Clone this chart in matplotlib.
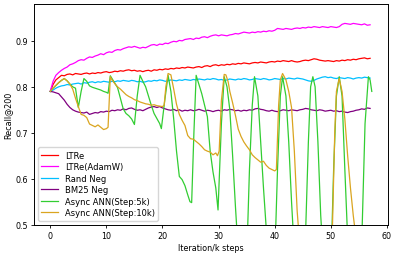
import numpy as np
import matplotlib
matplotlib.use("Agg")
import matplotlib.pyplot as plt

steps = np.arange(0, 57.01, 0.5)

ltre = [0.790, 0.805, 0.815, 0.820, 0.825, 0.824, 0.827, 0.828, 0.826, 0.829,
        0.828, 0.827, 0.829, 0.830, 0.828, 0.830, 0.829, 0.831, 0.830, 0.832,
        0.833, 0.831, 0.832, 0.834, 0.833, 0.835, 0.834, 0.836, 0.837, 0.835,
        0.836, 0.834, 0.835, 0.833, 0.835, 0.836, 0.834, 0.837, 0.836, 0.838,
        0.837, 0.839, 0.838, 0.840, 0.839, 0.841, 0.840, 0.842, 0.841, 0.843,
        0.842, 0.841, 0.843, 0.844, 0.842, 0.845, 0.846, 0.844, 0.847, 0.848,
        0.846, 0.848, 0.847, 0.849, 0.848, 0.850, 0.849, 0.851, 0.850, 0.852,
        0.851, 0.850, 0.852, 0.853, 0.852, 0.854, 0.853, 0.852, 0.854, 0.855,
        0.854, 0.856, 0.855, 0.857, 0.856, 0.855, 0.857, 0.855, 0.854, 0.855,
        0.857, 0.858, 0.857, 0.859, 0.861, 0.860, 0.858, 0.857, 0.856, 0.857,
        0.856, 0.855, 0.857, 0.856, 0.858, 0.857, 0.859, 0.858, 0.860, 0.859,
        0.861, 0.862, 0.863, 0.861, 0.862]

ltre_adamw = [0.790, 0.812, 0.825, 0.831, 0.836, 0.840, 0.843, 0.848, 0.850, 0.853,
              0.857, 0.859, 0.858, 0.862, 0.865, 0.864, 0.867, 0.869, 0.872, 0.870,
              0.874, 0.876, 0.875, 0.879, 0.881, 0.880, 0.883, 0.885, 0.887, 0.886,
              0.888, 0.886, 0.884, 0.886, 0.885, 0.888, 0.891, 0.892, 0.890, 0.893,
              0.892, 0.895, 0.894, 0.897, 0.899, 0.898, 0.901, 0.900, 0.903, 0.904,
              0.905, 0.903, 0.906, 0.905, 0.908, 0.909, 0.907, 0.910, 0.912, 0.913,
              0.911, 0.913, 0.912, 0.911, 0.913, 0.914, 0.916, 0.915, 0.917, 0.919,
              0.918, 0.917, 0.919, 0.918, 0.920, 0.919, 0.921, 0.920, 0.922, 0.921,
              0.923, 0.927, 0.926, 0.925, 0.927, 0.926, 0.925, 0.927, 0.928, 0.927,
              0.929, 0.928, 0.930, 0.929, 0.931, 0.930, 0.929, 0.931, 0.930, 0.929,
              0.931, 0.930, 0.929, 0.931, 0.936, 0.938, 0.937, 0.936, 0.938, 0.937,
              0.936, 0.935, 0.937, 0.934, 0.935]

rand_neg = [0.790, 0.793, 0.797, 0.800, 0.802, 0.803, 0.805, 0.804, 0.806, 0.807,
            0.808, 0.806, 0.809, 0.808, 0.810, 0.811, 0.809, 0.811, 0.810, 0.812,
            0.811, 0.810, 0.812, 0.811, 0.813, 0.812, 0.814, 0.813, 0.812, 0.814,
            0.813, 0.811, 0.812, 0.810, 0.811, 0.813, 0.812, 0.814, 0.813, 0.815,
            0.814, 0.812, 0.813, 0.815, 0.814, 0.813, 0.815, 0.814, 0.816, 0.815,
            0.814, 0.816, 0.815, 0.817, 0.816, 0.815, 0.817, 0.816, 0.818, 0.817,
            0.815, 0.816, 0.814, 0.815, 0.817, 0.816, 0.815, 0.817, 0.816, 0.818,
            0.817, 0.815, 0.816, 0.818, 0.817, 0.816, 0.818, 0.817, 0.815, 0.816,
            0.818, 0.817, 0.816, 0.818, 0.817, 0.819, 0.818, 0.817, 0.819, 0.818,
            0.817, 0.815, 0.813, 0.812, 0.814, 0.817, 0.819, 0.821, 0.822, 0.820,
            0.821, 0.819, 0.818, 0.820, 0.819, 0.818, 0.820, 0.819, 0.817, 0.819,
            0.820, 0.819, 0.821, 0.820, 0.819]

bm25_neg = [0.790, 0.789, 0.787, 0.785, 0.778, 0.771, 0.762, 0.755, 0.750, 0.747,
            0.745, 0.744, 0.743, 0.745, 0.740, 0.742, 0.744, 0.743, 0.746, 0.745,
            0.747, 0.746, 0.749, 0.748, 0.750, 0.749, 0.752, 0.750, 0.753, 0.754,
            0.751, 0.749, 0.750, 0.748, 0.751, 0.754, 0.756, 0.757, 0.755, 0.757,
            0.754, 0.752, 0.750, 0.749, 0.751, 0.748, 0.750, 0.747, 0.749, 0.748,
            0.750, 0.748, 0.749, 0.751, 0.749, 0.747, 0.749, 0.748, 0.746, 0.748,
            0.749, 0.747, 0.750, 0.749, 0.751, 0.750, 0.748, 0.749, 0.747, 0.749,
            0.748, 0.750, 0.749, 0.752, 0.753, 0.751, 0.750, 0.748, 0.747, 0.749,
            0.747, 0.746, 0.748, 0.750, 0.749, 0.748, 0.750, 0.749, 0.748, 0.750,
            0.751, 0.753, 0.752, 0.750, 0.749, 0.748, 0.750, 0.749, 0.747, 0.748,
            0.749, 0.747, 0.748, 0.746, 0.747, 0.745, 0.744, 0.746, 0.747, 0.749,
            0.750, 0.752, 0.751, 0.754, 0.753]

async5_x = [0, 0.5, 1, 1.5, 2, 2.5, 3, 3.5, 4, 4.5, 5, 5.5, 6, 6.5, 7, 7.5, 8, 8.5,
            9, 9.5, 10, 10.3, 10.7, 11, 11.5, 12, 12.5, 13, 13.5, 14, 14.5, 15,
            15.5, 16, 16.5, 17, 17.5, 18, 18.5, 19, 19.5, 19.8, 20.4, 21, 21.5,
            22, 22.5, 23, 23.5, 24, 24.5, 24.9, 25.2, 25.6, 26, 26.5, 27, 27.5,
            28, 28.5, 29, 29.5, 29.9, 30.5, 31, 31.5, 32, 32.5, 33, 33.5, 34,
            34.5, 35, 35.5, 36, 36.4, 37, 37.5, 38, 38.5, 39, 39.5, 40, 40.5, 41,
            41.4, 42, 42.5, 43, 43.5, 44, 44.5, 45, 45.5, 46, 46.4, 46.8, 47.2,
            47.7, 48.2, 48.7, 49.5, 50, 50.5, 51, 51.5, 52, 52.5, 53, 53.5, 54.5,
            55.2, 55.6, 56.1, 56.7, 57.0, 57.3]
async5_y = [0.790, 0.797, 0.803, 0.809, 0.814, 0.818, 0.813, 0.806, 0.800, 0.797,
            0.755, 0.790, 0.818, 0.812, 0.802, 0.799, 0.797, 0.795, 0.793, 0.790,
            0.788, 0.786, 0.824, 0.818, 0.808, 0.798, 0.775, 0.752, 0.742, 0.737,
            0.730, 0.718, 0.780, 0.825, 0.812, 0.800, 0.780, 0.760, 0.742, 0.731,
            0.720, 0.709, 0.770, 0.825, 0.790, 0.730, 0.660, 0.605, 0.598, 0.585,
            0.565, 0.550, 0.548, 0.700, 0.825, 0.805, 0.785, 0.760, 0.735, 0.660,
            0.615, 0.580, 0.532, 0.720, 0.822, 0.800, 0.750, 0.650, 0.540, 0.440,
            0.370, 0.350, 0.420, 0.620, 0.760, 0.822, 0.780, 0.680, 0.580, 0.490,
            0.400, 0.360, 0.420, 0.620, 0.780, 0.822, 0.780, 0.680, 0.550, 0.440,
            0.370, 0.350, 0.380, 0.480, 0.680, 0.800, 0.822, 0.800, 0.680, 0.520,
            0.420, 0.360, 0.400, 0.620, 0.780, 0.822, 0.780, 0.620, 0.470, 0.400,
            0.360, 0.400, 0.500, 0.720, 0.822, 0.815, 0.790]

async10_x = [0, 0.5, 1, 1.5, 2, 2.5, 3, 3.5, 4, 4.5, 5, 5.5, 6, 6.5, 7, 7.5, 8,
             8.5, 9, 9.5, 10, 10.3, 10.7, 11, 11.5, 12, 12.5, 13, 13.5, 14, 14.5,
             15, 15.5, 16, 16.5, 17, 17.5, 18, 18.5, 19, 19.5, 20, 20.3, 20.6, 21,
             21.5, 22, 22.5, 23, 23.5, 24, 24.5, 25, 25.5, 26, 26.5, 27, 27.5, 28,
             28.5, 29, 29.5, 29.8, 30.1, 30.5, 31, 31.3, 31.7, 32, 32.5, 33, 33.5,
             34, 34.5, 35, 35.5, 36, 36.5, 37, 37.5, 38, 38.5, 39, 39.5, 40, 40.3,
             40.7, 41, 41.4, 42, 42.5, 43, 43.5, 44, 44.5, 45, 46, 47, 48, 49, 50,
             50.3, 50.7, 51, 51.5, 52, 52.5, 53, 53.5, 54, 54.5, 55, 56, 57]
async10_y = [0.790, 0.797, 0.803, 0.809, 0.814, 0.818, 0.813, 0.806, 0.795, 0.775,
             0.757, 0.740, 0.738, 0.733, 0.719, 0.716, 0.713, 0.717, 0.712, 0.707,
             0.709, 0.712, 0.822, 0.815, 0.807, 0.800, 0.795, 0.789, 0.783, 0.779,
             0.776, 0.772, 0.770, 0.767, 0.765, 0.763, 0.762, 0.760, 0.761, 0.759,
             0.758, 0.757, 0.760, 0.800, 0.829, 0.826, 0.795, 0.762, 0.740, 0.727,
             0.716, 0.694, 0.687, 0.686, 0.681, 0.676, 0.670, 0.663, 0.660, 0.658,
             0.652, 0.656, 0.650, 0.660, 0.770, 0.827, 0.826, 0.811, 0.790, 0.765,
             0.738, 0.708, 0.692, 0.680, 0.671, 0.663, 0.652, 0.646, 0.641, 0.636,
             0.638, 0.629, 0.623, 0.620, 0.617, 0.620, 0.760, 0.815, 0.829, 0.815,
             0.790, 0.755, 0.660, 0.530, 0.450, 0.400, 0.360, 0.340, 0.330, 0.330,
             0.400, 0.500, 0.700, 0.790, 0.818, 0.790, 0.730, 0.650, 0.580, 0.520,
             0.470, 0.430, 0.380, 0.350]

labels = ["LTRe", "LTRe(AdamW)", "Rand Neg", "BM25 Neg",
          "Async ANN(Step:5k)", "Async ANN(Step:10k)"]
colors = ["red", "magenta", "deepskyblue", "purple", "limegreen", "goldenrod"]

plt.rcParams['font.family'] = ['DejaVu Sans']
fig = plt.figure(figsize=(3.98, 2.55), dpi=100)
ax = fig.add_axes([0.0854, 0.115, 0.8896, 0.865])

lw = 0.9
ax.plot(steps, ltre, color=colors[0], lw=lw, label=labels[0])
ax.plot(steps, ltre_adamw, color=colors[1], lw=lw, label=labels[1])
ax.plot(steps, rand_neg, color=colors[2], lw=lw, label=labels[2])
ax.plot(steps, bm25_neg, color=colors[3], lw=lw, label=labels[3])
ax.plot(async5_x, async5_y, color=colors[4], lw=lw, label=labels[4])
ax.plot(async10_x, async10_y, color=colors[5], lw=lw, label=labels[5])

ax.set_xlim(-2.9, 60.2)
ax.set_ylim(0.5, 0.98)
ax.set_xticks([0, 10, 20, 30, 40, 50, 60])
ax.set_yticks([0.5, 0.6, 0.7, 0.8, 0.9])
ax.tick_params(labelsize=5.8, length=2.5, width=0.6, pad=2)
for s in ax.spines.values():
    s.set_linewidth(0.7)
ax.set_xlabel("Iteration/k steps", fontsize=5.8, labelpad=2)
ax.set_ylabel("Recall@200", fontsize=5.8, labelpad=2)
ax.legend(loc="lower left", fontsize=6.0, frameon=True, handlelength=2.0,
          borderpad=0.4, labelspacing=0.3)

fig.savefig("out.png", dpi=100)
